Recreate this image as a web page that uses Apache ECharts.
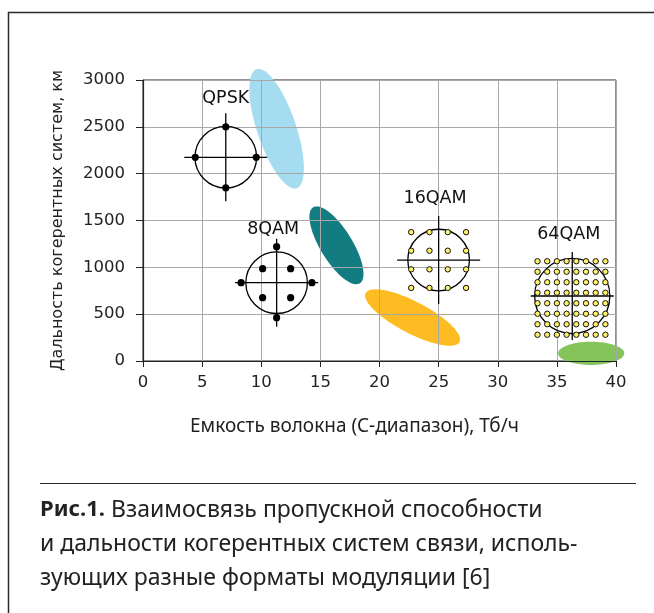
<!DOCTYPE html>
<html>
<head>
<meta charset="utf-8">
<script src="https://cdn.jsdelivr.net/npm/echarts@6/dist/echarts.min.js"></script>
<style>
html,body{margin:0;padding:0;background:#fff;}
#chart{width:654px;height:613px;}
</style>
</head>
<body>
<div id="chart"></div>
<script>
// ---------- DATA ----------
const xTicks = [0, 5, 10, 15, 20, 25, 30, 35, 40];
const yTicks = [0, 500, 1000, 1500, 2000, 2500, 3000];

// modulation formats (constellation centres: capacity Tb/s, reach km)
const formats = ['QPSK', '8QAM', '16QAM', '64QAM'];
const formatCapacity = [7.0, 11.3, 25.0, 36.3];
const formatReach = [2175, 836, 1078, 694];

// shaded regions (ellipses): centre, end of major axis, minor/major ratio
const regionNames = ['QPSK', '8QAM', '16QAM', '64QAM'];
const regionCenterX = [11.3, 16.36, 22.8, 37.9];
const regionCenterY = [2480, 1235, 464, 82];
const regionTipX = [13.0, 18.33, 26.77, 40.7];
const regionTipY = [1845, 829, 203, 82];
const regionRatio = [0.31, 0.36, 0.3, 0.35];

const captionBold = 'Рис.1.';
const captionText = ' Взаимосвязь пропускной способности\nи дальности когерентных систем связи, исполь-\nзующих разные форматы модуляции [6]';

// ---------- STYLE ----------
const regionColors = ['#a5dcef', '#127c80', '#fdbc22', '#84c45a'];
const FONT = '"Noto Sans", "Open Sans", sans-serif';
const FONT2 = '"DejaVu Sans", sans-serif';

const chart = echarts.init(document.getElementById('chart'));

function ellipseRender(params, api) {
  const i = params.dataIndex;
  const c = api.coord([api.value(0), api.value(1)]);
  const t = api.coord([api.value(2), api.value(3)]);
  const ax = t[0] - c[0], ay = t[1] - c[1];
  const r = api.value(4);
  const bx = -ay * r, by = ax * r;
  const pts = [];
  for (let k = 0; k < 96; k++) {
    const a = k / 96 * Math.PI * 2;
    pts.push([c[0] + ax * Math.cos(a) + bx * Math.sin(a), c[1] + ay * Math.cos(a) + by * Math.sin(a)]);
  }
  return { type: 'polygon', shape: { points: pts }, style: { fill: regionColors[i], stroke: 'none' } };
}

function dotPattern(name) {
  const d = [];
  if (name === 'QPSK') {
    d.push([0, -30.5], [0, 30.5], [-30.5, 0], [30.5, 0]);
  } else if (name === '8QAM') {
    d.push([0, -36], [0, 35], [-35.5, 0], [35.3, 0]);
    d.push([-14, -14], [14, -14], [-14, 15], [14, 15]);
  } else if (name === '16QAM') {
    for (let i = 0; i < 4; i++) for (let j = 0; j < 4; j++) d.push([(i - 1.5) * 18.3, (j - 1.5) * 18.6]);
  } else {
    for (let i = 0; i < 8; i++) for (let j = 0; j < 8; j++) d.push([(i - 3.5) * 9.7 - 0.8, (j - 3.5) * 10.5 + 2]);
  }
  return d;
}

function constRender(params, api) {
  const i = params.dataIndex;
  const name = formats[i];
  const c = api.coord([api.value(0), api.value(1)]);
  const R = name === '64QAM' ? 37.6 : 30.8;
  const big = name === '16QAM' || name === '64QAM';
  const children = [];
  children.push({ type: 'circle', shape: { cx: c[0], cy: c[1], r: R }, style: { fill: 'none', stroke: '#000', lineWidth: 1.3 } });
  children.push({ type: 'line', shape: { x1: c[0], y1: c[1] - 44, x2: c[0], y2: c[1] + 44 }, style: { stroke: '#000', lineWidth: 1.3 } });
  children.push({ type: 'line', shape: { x1: c[0] - 41.5, y1: c[1], x2: c[0] + 41.5, y2: c[1] }, style: { stroke: '#000', lineWidth: 1.3 } });
  dotPattern(name).forEach(p => {
    if (big) {
      children.push({ type: 'circle', shape: { cx: c[0] + p[0], cy: c[1] + p[1], r: 2.7 }, style: { fill: '#fff06a', stroke: '#111', lineWidth: 1 } });
    } else {
      children.push({ type: 'circle', shape: { cx: c[0] + p[0], cy: c[1] + p[1], r: 3.6 }, style: { fill: '#000' } });
    }
  });
  const labelDy = name === '8QAM' ? -53 : (name === 'QPSK' ? -59 : -62);
  const labelDx = name === 'QPSK' ? 0 : -3.5;
  children.push({ type: 'text', style: { text: name, x: c[0] + labelDx, y: c[1] + labelDy, textAlign: 'center', textVerticalAlign: 'middle', fontSize: 17.5, fontFamily: FONT2, fill: '#111' } });
  return { type: 'group', children };
}

const option = {
  backgroundColor: '#fff',
  animation: false,
  grid: { left: 143, right: 38, top: 80, bottom: 252, show: true, borderColor: '#222', borderWidth: 1, backgroundColor: 'transparent' },
  xAxis: {
    type: 'value', min: xTicks[0], max: xTicks[xTicks.length - 1], interval: 5, z: 1,
    name: 'Емкость волокна (C-диапазон), Тб/ч', nameLocation: 'middle', nameGap: 56,
    nameTextStyle: { fontSize: 19, fontFamily: FONT, color: '#222', padding: [0, 50, 0, 0] },
    axisLine: { show: true, lineStyle: { color: '#222', width: 1.2 } },
    axisTick: { show: true, length: 6, lineStyle: { color: '#222' } },
    axisLabel: { fontSize: 16.5, fontFamily: FONT2, color: '#222', margin: 13 },
    splitLine: { show: true, lineStyle: { color: '#a8a8a8', width: 1 } }
  },
  yAxis: {
    type: 'value', min: yTicks[0], max: yTicks[yTicks.length - 1], interval: 500, z: 1,
    name: 'Дальность когерентных систем, км', nameLocation: 'middle', nameGap: 77,
    nameTextStyle: { fontSize: 16, fontFamily: FONT2, color: '#222' },
    axisLine: { show: true, lineStyle: { color: '#222', width: 1.2 } },
    axisTick: { show: true, length: 7, lineStyle: { color: '#222' } },
    axisLabel: { fontSize: 16.5, fontFamily: FONT2, color: '#222', margin: 18, formatter: v => String(v) },
    splitLine: { show: true, lineStyle: { color: '#a8a8a8', width: 1 } }
  },
  series: [
    {
      type: 'custom', name: 'regions', z: 0, clip: false,
      renderItem: ellipseRender,
      data: regionNames.map((n, i) => [regionCenterX[i], regionCenterY[i], regionTipX[i], regionTipY[i], regionRatio[i]])
    },
    {
      type: 'custom', name: 'constellations', z: 3, clip: false,
      renderItem: constRender,
      data: formats.map((n, i) => [formatCapacity[i], formatReach[i]])
    }
  ],
  graphic: [
    { type: 'rect', silent: true, shape: { x: 8.5, y: 12.5, width: 800, height: 800 }, style: { fill: 'none', stroke: '#2a2a2a', lineWidth: 1.5 } },
    { type: 'line', silent: true, shape: { x1: 40, y1: 483.5, x2: 636, y2: 483.5 }, style: { stroke: '#2a2a2a', lineWidth: 1.2 } },
    {
      type: 'text', silent: true, left: 40, top: 493,
      style: {
        text: '{b|' + captionBold + '}' + captionText,
        font: '23px ' + FONT, fill: '#222', lineHeight: 34,
        rich: { b: { fontWeight: 'bold', fontSize: 22, fontFamily: FONT, fill: '#222', lineHeight: 34 } }
      }
    }
  ]
};
chart.setOption(option);
</script>
</body>
</html>
